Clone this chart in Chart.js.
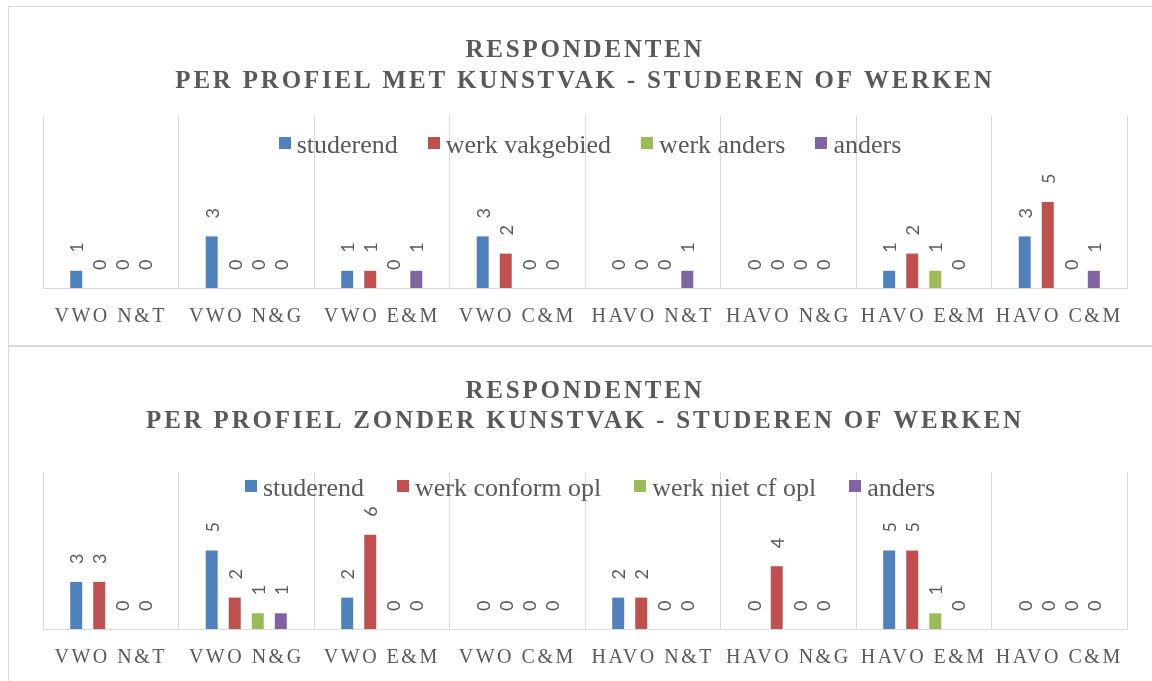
<!DOCTYPE html>
<html><head><meta charset="utf-8">
<script src="https://cdn.jsdelivr.net/npm/chart.js@4.4.1/dist/chart.umd.min.js"></script>
<style>
html,body{margin:0;padding:0;background:#fff;width:1152px;height:681px;overflow:hidden;}
.box{position:absolute;left:8px;width:1152px;border:1px solid #d9d9d9;box-sizing:border-box;background:#fff;}
#box1{top:6px;height:340px;}
#box2{top:346px;height:345px;}
canvas{position:absolute;left:0;top:0;}
</style></head><body>
<div class="box" id="box1"><canvas id="c1" width="1150" height="340"></canvas></div>
<div class="box" id="box2"><canvas id="c2" width="1150" height="345"></canvas></div>
<script>
// ---- data ----
const categories = ["VWO N&T","VWO N&G","VWO E&M","VWO C&M","HAVO N&T","HAVO N&G","HAVO E&M","HAVO C&M"];

const title1 = ["RESPONDENTEN","PER PROFIEL MET KUNSTVAK - STUDEREN OF WERKEN"];
const labels1 = ["studerend","werk vakgebied","werk anders","anders"];
const studerend1 = [1,3,1,3,0,0,1,3];
const werkVakgebied1 = [0,0,1,2,0,0,2,5];
const werkAnders1 = [0,0,0,0,0,0,1,0];
const anders1 = [0,0,1,0,1,0,0,1];

const title2 = ["RESPONDENTEN","PER PROFIEL ZONDER KUNSTVAK - STUDEREN OF WERKEN"];
const labels2 = ["studerend","werk conform opl","werk niet cf opl","anders"];
const studerend2 = [3,5,2,0,2,0,5,0];
const werkConform2 = [3,2,6,0,2,4,5,0];
const werkNietCf2 = [0,1,0,0,0,0,1,0];
const anders2 = [0,1,0,0,0,0,0,0];

const yMax = 10;
const colors = ["#4F81BD","#C0504D","#9BBB59","#8064A2"];
const textColor = "#595959";
const serif = "'Liberation Serif', serif";

// ---- plugins ----
const spacingPlugin = {
  id: 'spacing',
  beforeDraw(chart, args, opts) {
    const tb = chart.titleBlock;
    if (tb && !tb._ls) {
      const d = tb.draw.bind(tb);
      tb.draw = function(ca){ const c=this.ctx; c.save(); c.letterSpacing = opts.title; d(ca); c.restore(); };
      tb._ls = true;
    }
    const sx = chart.scales.x;
    if (sx && !sx._ls) {
      const d = sx.drawLabels.bind(sx);
      sx.drawLabels = function(ca){ const c=this.ctx; c.save(); c.letterSpacing = opts.ticks; d(ca); c.restore(); };
      sx._ls = true;
    }
  }
};

const valueLabels = {
  id: 'valueLabels',
  afterDatasetsDraw(chart) {
    const ctx = chart.ctx;
    ctx.save();
    ctx.letterSpacing = '0px';
    ctx.font = "18px Lato";
    ctx.fillStyle = textColor;
    ctx.textAlign = 'left';
    ctx.textBaseline = 'middle';
    chart.data.datasets.forEach((ds, i) => {
      const meta = chart.getDatasetMeta(i);
      meta.data.forEach((el, j) => {
        ctx.save();
        ctx.translate(el.x + 1, el.y - 18);
        ctx.rotate(-Math.PI / 2);
        ctx.fillText(String(ds.data[j]), 0, 0);
        ctx.restore();
      });
    });
    ctx.restore();
  }
};

const customLegend = {
  id: 'customLegend',
  afterDraw(chart, args, opts) {
    const ctx = chart.ctx;
    ctx.save();
    ctx.letterSpacing = '0px';
    ctx.font = opts.font;
    ctx.textBaseline = 'alphabetic';
    ctx.textAlign = 'left';
    const box = 12;
    const items = chart.data.datasets.map(d => ({text: d.label, color: d.backgroundColor, w: ctx.measureText(d.label).width}));
    const total = items.reduce((s, it) => s + box + opts.boxGap + it.w, 0) + opts.itemGap * (items.length - 1);
    let x = opts.centerX - total / 2;
    items.forEach(it => {
      ctx.fillStyle = it.color;
      ctx.fillRect(Math.round(x), Math.round(opts.y - box / 2), box, box);
      ctx.fillStyle = textColor;
      ctx.fillText(it.text, x + box + opts.boxGap, opts.y + opts.textDy);
      x += box + opts.boxGap + it.w + opts.itemGap;
    });
    ctx.restore();
  }
};

function makeChart(id, title, labels, series, cfg) {
  const datasets = series.map((data, i) => ({
    label: labels[i],
    data: data,
    backgroundColor: colors[i],
    borderWidth: 0,
    categoryPercentage: 0.68,
    barPercentage: 0.52
  }));
  return new Chart(document.getElementById(id), {
    type: 'bar',
    data: { labels: categories, datasets },
    plugins: [spacingPlugin, valueLabels, customLegend],
    options: {
      responsive: false,
      animation: false,
      events: [],
      layout: { padding: { left: 34, right: 32, top: 0, bottom: cfg.padBottom } },
      plugins: {
        legend: { display: false },
        tooltip: { enabled: false },
        title: {
          display: true,
          text: title,
          color: textColor,
          font: { family: serif, size: 25, weight: 'bold', lineHeight: cfg.titleLH },
          padding: { top: cfg.titleTop, bottom: cfg.titleBottom }
        },
        spacing: { title: '2.8px', ticks: '2.5px' },
        customLegend: { font: "26px 'Liberation Serif'", y: cfg.legendY, centerX: 581, boxGap: 6, itemGap: cfg.itemGap, textDy: 10 }
      },
      scales: {
        x: {
          grid: { color: '#d9d9d9', lineWidth: 1, offset: true, drawTicks: false },
          border: { display: true, color: '#d9d9d9', width: 1 },
          ticks: { color: textColor, font: { family: serif, size: 20, lineHeight: 1.2 }, padding: 17, maxRotation: 0, autoSkip: false }
        },
        y: { display: false, min: 0, max: yMax, beginAtZero: true }
      }
    }
  });
}

makeChart('c1', title1, labels1, [studerend1, werkVakgebied1, werkAnders1, anders1],
  { titleTop: 28, titleBottom: 19, titleLH: 1.24, padBottom: 1, legendY: 136, itemGap: 30 });
makeChart('c2', title2, labels2, [studerend2, werkConform2, werkNietCf2, anders2],
  { titleTop: 30, titleBottom: 35, titleLH: 1.2, padBottom: 5, legendY: 138.5, itemGap: 33 });
</script>
</body></html>
